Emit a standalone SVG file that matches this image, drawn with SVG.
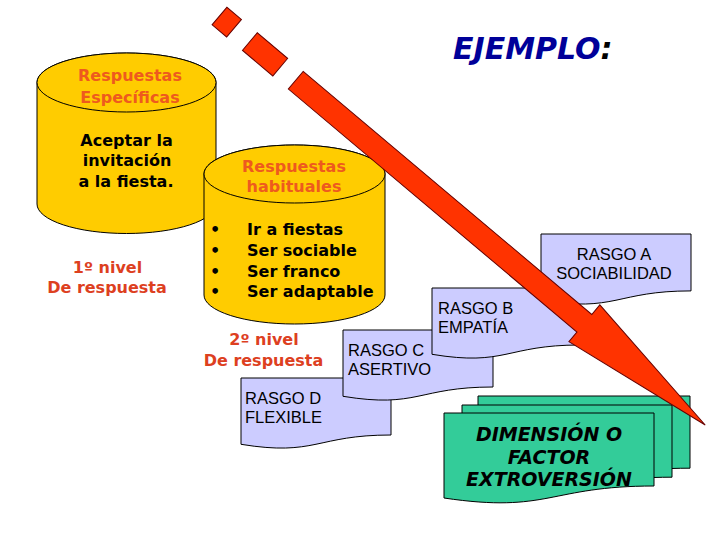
<svg xmlns="http://www.w3.org/2000/svg" width="720" height="540" viewBox="0 0 720 540">
<style>
.cyl{fill:#FFCC00;stroke:#000;stroke-width:1}
.doc{fill:#CCCCFF;stroke:#000;stroke-width:1}
.grn{fill:#33CC99;stroke:#000;stroke-width:1}
.arrow{fill:#FF3300;stroke:#660000;stroke-width:1}
.b{font-family:"DejaVu Sans",Verdana,sans-serif;font-weight:bold;font-size:16px}
.or{fill:#EE5A1E}
.rd{fill:#DD401F}
.bk{fill:#000}
.rs{font-family:"Liberation Sans",Arial,sans-serif;font-size:16.5px;fill:#000}
.gt{font-family:"DejaVu Sans",Verdana,sans-serif;font-weight:bold;font-style:italic;font-size:19px;fill:#000}
.title{font-family:"DejaVu Sans",Verdana,sans-serif;font-weight:bold;font-style:italic;font-size:30px;fill:#000099}
</style>
<rect width="720" height="540" fill="#fff"/>

<g id="title"><text class="title" x="453" y="59">EJEMPLO<tspan fill="#000">:</tspan></text></g>

<g id="cyl1">
<path class="cyl" d="M37,82.5 V204 A89.5,29.5 0 0 0 216,204 V82.5 A89.5,29.5 0 0 0 37,82.5 Z"/>
<ellipse class="cyl" cx="126.5" cy="82.5" rx="89.5" ry="29.5"/>
<text class="b or" text-anchor="middle" x="130" y="81">Respuestas</text>
<text class="b or" text-anchor="middle" x="130" y="103">Específicas</text>
<text class="b bk" text-anchor="middle" x="126.5" y="146">Aceptar la</text>
<text class="b bk" text-anchor="middle" x="127" y="166">invitación</text>
<text class="b bk" text-anchor="middle" x="126" y="187">a la fiesta.</text>
</g>

<g id="nivel1">
<text class="b rd" text-anchor="middle" x="107.5" y="273">1º nivel</text>
<text class="b rd" text-anchor="middle" x="107" y="293">De respuesta</text>
</g>

<g id="cyl2">
<path class="cyl" d="M204,174 V295 A90.5,29 0 0 0 385,295 V174 A90.5,29 0 0 0 204,174 Z"/>
<ellipse class="cyl" cx="294.5" cy="174" rx="90.5" ry="29"/>
<text class="b or" text-anchor="middle" x="294" y="172">Respuestas</text>
<text class="b or" text-anchor="middle" x="294" y="192">habituales</text>
<g class="b bk">
<text x="210" y="235">•</text><text x="247" y="235">Ir a fiestas</text>
<text x="210" y="256">•</text><text x="247" y="256">Ser sociable</text>
<text x="210" y="277">•</text><text x="247" y="277">Ser franco</text>
<text x="210" y="297">•</text><text x="247" y="297">Ser adaptable</text>
</g>
</g>

<g id="nivel2">
<text class="b rd" text-anchor="middle" x="264" y="345">2º nivel</text>
<text class="b rd" text-anchor="middle" x="263.5" y="366">De respuesta</text>
</g>

<g id="rasgoD">
<path class="doc" d="M241,378 H391 V435 C316,435 316,456.6 241,444.3 Z"/>
<text class="rs" x="245" y="404">RASGO D</text>
<text class="rs" x="245" y="423">FLEXIBLE</text>
</g>
<g id="rasgoC">
<path class="doc" d="M343,330 H493 V387 C418,387 418,408.6 343,396.3 Z"/>
<text class="rs" x="348" y="356">RASGO C</text>
<text class="rs" x="348" y="375">ASERTIVO</text>
</g>
<g id="rasgoB">
<path class="doc" d="M432,288 H580 V345 C506,345 506,366.6 432,354.3 Z"/>
<text class="rs" x="438" y="314">RASGO B</text>
<text class="rs" x="438" y="333">EMPATÍA</text>
</g>
<g id="rasgoA">
<path class="doc" d="M541,234 H691 V290.9 C616,290.9 616,312.6 541,300.3 Z"/>
<text class="rs" text-anchor="middle" x="614" y="260">RASGO A</text>
<text class="rs" text-anchor="middle" x="614" y="279">SOCIABILIDAD</text>
</g>

<g id="dimension">
<path class="grn" d="M478,396 H690 V468.2 C584,468.2 584,495.6 478,480.1 Z"/>
<path class="grn" d="M462,405 H672 V477.2 C567,477.2 567,504.6 462,489.1 Z"/>
<path class="grn" d="M444,413 H654 V486 C549,486 549,513.7 444,498 Z"/>
<text class="gt" text-anchor="middle" x="549" y="441">DIMENSIÓN O</text>
<text class="gt" text-anchor="middle" x="549" y="463.5">FACTOR</text>
<text class="gt" text-anchor="middle" x="549" y="486">EXTROVERSIÓN</text>
</g>

<g id="connectors">
<g transform="translate(219.5,16) rotate(40.1)">
<rect class="arrow" x="0" y="-11.5" width="19" height="23"/>
<rect class="arrow" x="39.7" y="-11.5" width="39.7" height="23"/>
<path class="arrow" d="M99.7,-11.5 H477 V-24 L635,0 L477,24 V11.5 H99.7 Z"/>
</g>
</g>
</svg>
